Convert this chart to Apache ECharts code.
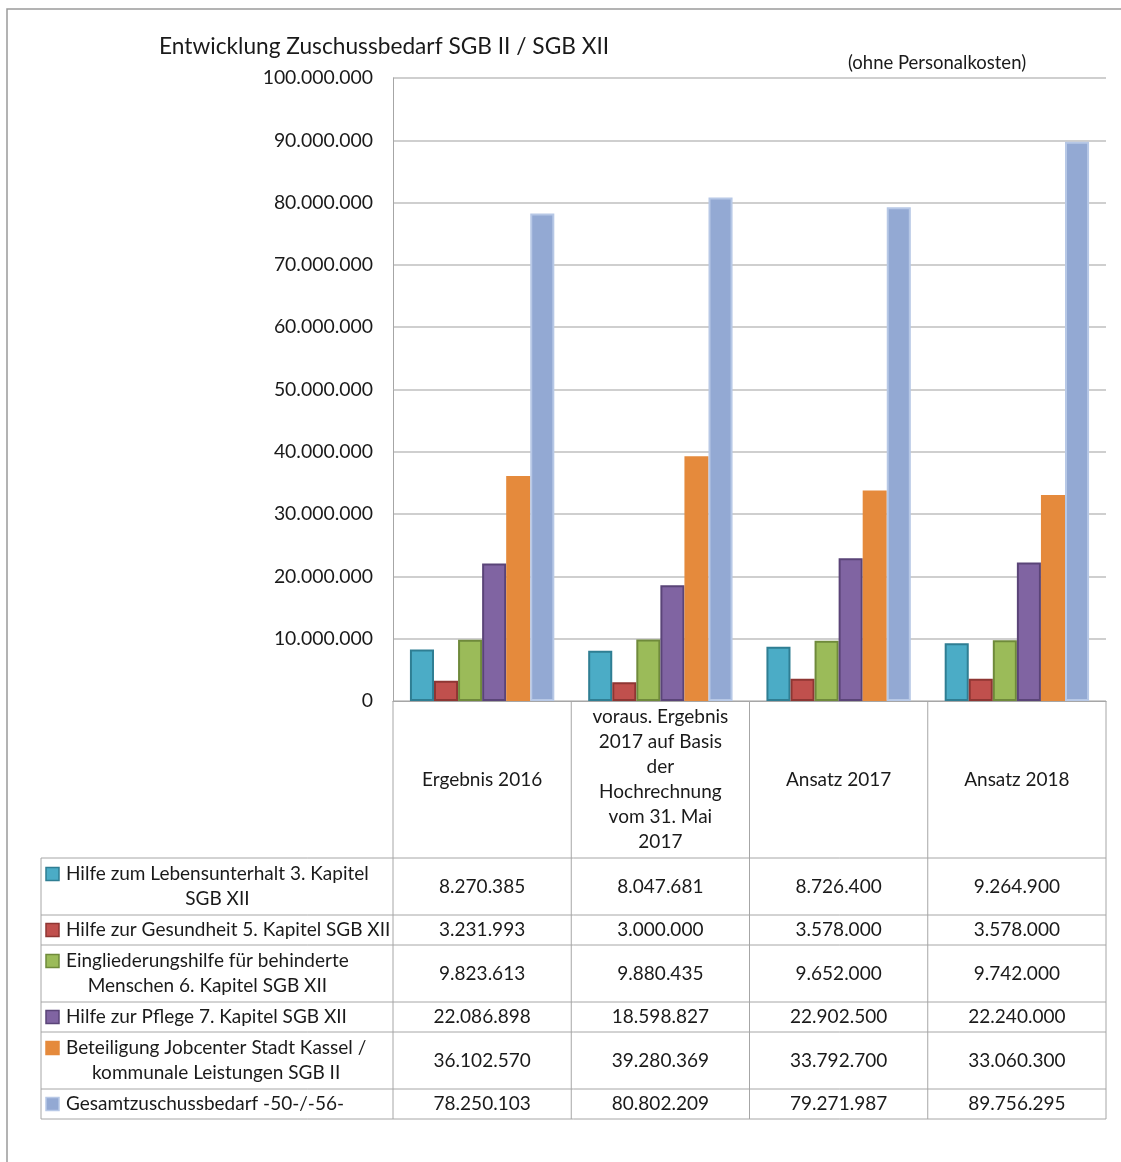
<!DOCTYPE html>
<html><head><meta charset="utf-8">
<script src="https://cdn.jsdelivr.net/npm/echarts@6/dist/echarts.min.js"></script>
<style>html,body{margin:0;padding:0;background:#fff}#c{width:1121px;height:1162px}</style>
</head><body><div id="c"></div>
<script>
const categories = ['Ergebnis 2016', 'voraus. Ergebnis\n2017 auf Basis\nder\nHochrechnung\nvom 31. Mai\n2017', 'Ansatz 2017', 'Ansatz 2018'];
const seriesNames = [
  'Hilfe zum Lebensunterhalt 3. Kapitel\nSGB XII',
  'Hilfe zur Gesundheit 5. Kapitel SGB XII',
  'Eingliederungshilfe für behinderte\nMenschen 6. Kapitel SGB XII',
  'Hilfe zur Pflege 7. Kapitel SGB XII',
  'Beteiligung Jobcenter Stadt Kassel /\nkommunale Leistungen SGB II',
  'Gesamtzuschussbedarf -50-/-56-'
];
const hlu = [8270385, 8047681, 8726400, 9264900];
const hzg = [3231993, 3000000, 3578000, 3578000];
const egh = [9823613, 9880435, 9652000, 9742000];
const hzp = [22086898, 18598827, 22902500, 22240000];
const jobcenter = [36102570, 39280369, 33792700, 33060300];
const gesamt = [78250103, 80802209, 79271987, 89756295];
const yMin = 0, yMax = 100000000, yStep = 10000000;
const title = 'Entwicklung Zuschussbedarf SGB II / SGB XII';
const subtitle = '(ohne Personalkosten)';

const values = [hlu, hzg, egh, hzp, jobcenter, gesamt];
const fills = ['#4bacc6', '#c0504d', '#9bbb59', '#8064a2', '#e58a3c', '#93a9d3'];
const borders = ['#2f7e93', '#8e3633', '#6f8a3b', '#5a4478', '#e58a3c', '#b7c8e6'];

const FONT = 'Lato, "Open Sans", sans-serif';
const FS = 19;
const W = 1121, H = 1162;
const gL = 393, gR = 1106, gT = 78, gB = 701;
const tableLeft = 41, headerBottom = 858, lineStep = 27, rowPad = 3;
const fmt = v => String(v).replace(/\B(?=(\d{3})+(?!\d))/g, '.');

const cv = document.createElement('canvas').getContext('2d');
cv.font = FS + 'px ' + FONT;

const graphic = [];
graphic.push({type:'polyline', shape:{points:[[7,H],[7,9],[W,9]]}, style:{stroke:'#9a9a9a', lineWidth:1.5, fill:null}, silent:true});
graphic.push({type:'text', style:{text:title, x:159, y:47, font:'22.7px ' + FONT, fill:'#1a1a1a', verticalAlign:'middle'}});
graphic.push({type:'text', style:{text:subtitle, x:937, y:63, font:'18.5px ' + FONT, fill:'#1a1a1a', align:'center', verticalAlign:'middle'}});

const lineStyle = {stroke:'#a6a6a6', lineWidth:1};
const colW = (gR - gL) / categories.length;
const rowTops = [headerBottom];
seriesNames.forEach(n => rowTops.push(rowTops[rowTops.length-1] + rowPad + lineStep * n.split('\n').length));
const tableBottom = rowTops[rowTops.length-1];
for (let i = 0; i <= categories.length; i++) {
  const x = gL + i * colW;
  graphic.push({type:'line', shape:{x1:x, y1:gB, x2:x, y2:tableBottom}, style:lineStyle, silent:true});
}
graphic.push({type:'line', shape:{x1:tableLeft, y1:headerBottom, x2:tableLeft, y2:tableBottom}, style:lineStyle, silent:true});
rowTops.forEach(y => graphic.push({type:'line', shape:{x1:tableLeft, y1:y, x2:gR, y2:y}, style:lineStyle, silent:true}));

seriesNames.forEach((name, r) => {
  const top = rowTops[r], bot = rowTops[r+1], mid = (top + bot) / 2;
  const lines = name.split('\n');
  const w = cv.measureText(lines[0]).width;
  const firstY = mid - (lines.length - 1) * 25 / 2;
  graphic.push({type:'rect', shape:{x:46, y:firstY-6.5, width:13, height:13}, style:{fill:fills[r], stroke:borders[r], lineWidth:1.5}, silent:true});
  graphic.push({type:'text', style:{text:name, x:66 + w/2, y:mid, align:'center', verticalAlign:'middle', font:FS + 'px ' + FONT, lineHeight:25, fill:'#1a1a1a'}});
  values[r].forEach((v, c) => {
    graphic.push({type:'text', style:{text:fmt(v), x:gL + colW*(c+0.5), y:mid, align:'center', verticalAlign:'middle', font:FS + 'px ' + FONT, fill:'#1a1a1a'}});
  });
});

const series = values.map((arr, i) => ({
  name: seriesNames[i], type:'bar', data: arr, barGap:'0%', barCategoryGap:'19%',
  itemStyle:{color:fills[i], borderColor:borders[i], borderWidth:2}
}));

const chart = echarts.init(document.getElementById('c'), null, {renderer:'canvas'});
chart.setOption({
  animation:false,
  grid:{left:gL, right:W-gR, top:gT, bottom:H-gB, containLabel:false},
  xAxis:{type:'category', data:categories,
    axisLine:{show:true, lineStyle:{color:'#a6a6a6', width:1}},
    axisTick:{show:false},
    axisLabel:{interval:0, margin:(headerBottom-gB)/2, verticalAlign:'middle', lineHeight:25, fontSize:FS, fontFamily:FONT, color:'#1a1a1a'}
  },
  yAxis:{type:'value', min:yMin, max:yMax, interval:yStep,
    axisLine:{show:true, lineStyle:{color:'#a6a6a6', width:1}},
    axisTick:{show:false},
    splitLine:{lineStyle:{color:'#bfbfbf', width:1.5}},
    axisLabel:{formatter:v => fmt(v), margin:20, fontSize:19.4, fontFamily:FONT, color:'#1a1a1a'}
  },
  series: series,
  graphic: graphic
});
</script></body></html>
